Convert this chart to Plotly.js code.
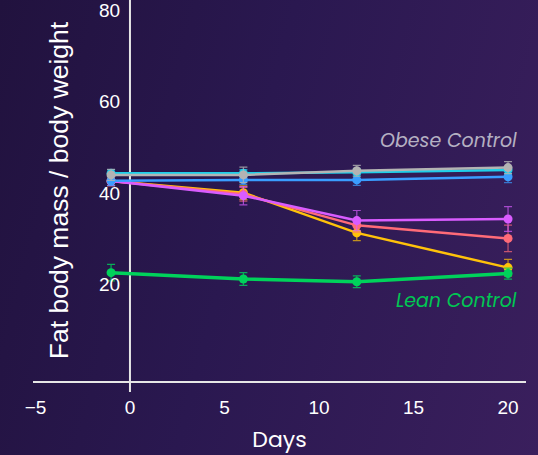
<!DOCTYPE html>
<html>
<head>
<meta charset="utf-8">
<script src="https://cdn.plot.ly/plotly-3.0.1.min.js"></script>
<style>
html,body{margin:0;padding:0;width:538px;height:455px;overflow:hidden;}
body{background:linear-gradient(105deg,#21123e 0%,#2a1850 45%,#3a1f5d 100%);}
#chart{width:538px;height:455px;}
</style>
</head>
<body>
<div id="chart"></div>
<script>
const days = [-1, 6, 12, 20];
const seriesNames = ["Obese Control", "Cyan group", "Blue group", "Magenta group", "Salmon group", "Yellow group", "Lean Control"];
const greyVals = [44.0, 44.0, 44.9, 45.6];
const greyErr = [1.2, 1.7, 1.2, 1.3];
const cyanVals = [44.35, 44.35, 44.6, 45.1];
const cyanErr = [0.8, 0.8, 0.8, 0.8];
const blueVals = [42.7, 42.9, 42.9, 43.6];
const blueErr = [1.0, 1.0, 1.2, 1.3];
const magentaVals = [42.65, 39.45, 34.0, 34.35];
const magentaErr = [1.0, 2.0, 2.2, 2.7];
const salmonVals = [42.65, 39.75, 32.95, 30.1];
const salmonErr = [1.0, 1.5, 1.5, 2.9];
const yellowVals = [42.65, 40.1, 31.3, 23.7];
const yellowErr = [1.0, 1.5, 1.7, 1.8];
const greenVals = [22.6, 21.2, 20.6, 22.4];
const greenErr = [1.8, 1.4, 1.3, 1.2];

const yTicks = [20, 40, 60, 80];
const xTicks = [-5, 0, 5, 10, 15, 20];

function tr(vals, err, color, width, errColor, name) {
  return {
    x: days, y: vals, name: name, type: 'scatter', mode: 'lines+markers',
    line: {color: color, width: width},
    marker: {color: color, size: 9},
    error_y: {type: 'data', array: err, visible: true, color: errColor, thickness: 1.2, width: 4},
    showlegend: false
  };
}

const data = [
  tr(yellowVals, yellowErr, '#ffc20a', 2.5, 'rgba(255,194,10,0.7)', seriesNames[5]),
  tr(salmonVals, salmonErr, '#ff6b78', 2.5, 'rgba(255,107,120,0.7)', seriesNames[4]),
  tr(magentaVals, magentaErr, '#d95cff', 2.5, 'rgba(217,92,255,0.7)', seriesNames[3]),
  tr(blueVals, blueErr, '#3a9dff', 2.5, 'rgba(58,157,255,0.7)', seriesNames[2]),
  tr(cyanVals, cyanErr, '#1fcfe9', 2.5, 'rgba(31,207,233,0.7)', seriesNames[1]),
  tr(greyVals, greyErr, '#b3b3b3', 2.5, 'rgba(179,179,179,0.8)', seriesNames[0]),
  tr(greenVals, greenErr, '#00d25b', 3.5, 'rgba(0,210,91,0.8)', seriesNames[6])
];

const layout = {
  width: 538, height: 455,
  margin: {l: 33, r: 12, t: 0, b: 74},
  paper_bgcolor: 'rgba(0,0,0,0)',
  plot_bgcolor: 'rgba(0,0,0,0)',
  font: {family: 'Liberation Sans, Arial, sans-serif', color: '#ffffff'},
  xaxis: {
    range: [-5.13, 20.95],
    tickvals: xTicks,
    showgrid: false, zeroline: false,
    showline: true, linecolor: '#e6e6e6', linewidth: 2,
    ticks: '', ticklabelstandoff: 8,
    tickfont: {size: 19, color: '#ffffff'},
    title: {text: 'Days', font: {family: 'Poppins, Lato, sans-serif', size: 22, color: '#ffffff'}, standoff: 16}
  },
  yaxis: {
    range: [-1.13, 82.3],
    tickvals: yTicks,
    anchor: 'free', position: 0.1968,
    showgrid: false, zeroline: false, showline: false,
    ticks: '', ticklabelstandoff: 10, ticklabeloverflow: 'allow',
    tickfont: {size: 19, color: '#ffffff'},
    title: {text: 'Fat body mass / body weight', font: {size: 26.5, color: '#ffffff'}, standoff: 21}
  },
  shapes: [{
    type: 'line', xref: 'x', yref: 'paper', x0: 0, x1: 0, y0: -0.029, y1: 1,
    line: {color: '#e6e6e6', width: 2}, layer: 'below'
  }],
  annotations: [
    {text: 'Obese Control', xref: 'paper', yref: 'y', x: 0.985, y: 51.6, xanchor: 'right', yanchor: 'middle',
     showarrow: false, font: {family: 'Poppins, Lato, sans-serif', size: 19, color: '#b5b0c2', style: 'italic'}},
    {text: 'Lean Control', xref: 'paper', yref: 'y', x: 0.985, y: 16.4, xanchor: 'right', yanchor: 'middle',
     showarrow: false, font: {family: 'Poppins, Lato, sans-serif', size: 19, color: '#00c853', style: 'italic'}}
  ]
};

Plotly.newPlot('chart', data, layout, {displayModeBar: false, staticPlot: true});
</script>
</body>
</html>
